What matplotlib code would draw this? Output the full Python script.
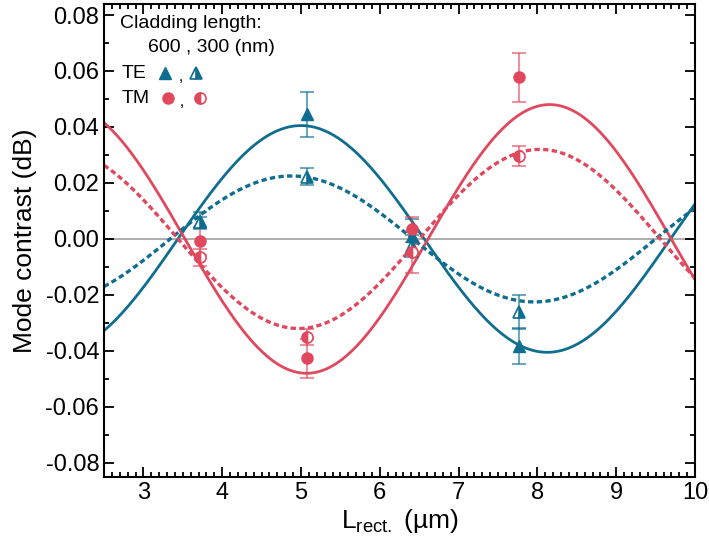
import numpy as np
import matplotlib.pyplot as plt

plt.rcParams['font.family'] = ['Liberation Sans', 'DejaVu Sans']
plt.rcParams['mathtext.default'] = 'regular'

# measured points
L = [3.72, 5.07, 6.41, 7.77]
te600 = [0.0065, 0.0445, 0.0010, -0.0382]
te600_err = [0.003, 0.008, 0.006, 0.0065]
te300 = [0.0060, 0.0223, -0.0025, -0.0260]
te300_err = [0.002, 0.003, 0.004, 0.006]
tm600 = [-0.0007, -0.0426, 0.0035, 0.0578]
tm600_err = [0.005, 0.007, 0.0045, 0.0088]
tm300 = [-0.0065, -0.0350, -0.0045, 0.0296]
tm300_err = [0.003, 0.003, 0.0075, 0.0037]

# cosine fits: amplitude, centre, period
fit_te600 = (0.0405, 5.00, 6.25)
fit_te300 = (0.0225, 4.88, 6.16)
fit_tm600 = (-0.048, 5.07, 6.17)
fit_tm300 = (-0.032, 4.97, 6.12)

blue = '#0f6e8f'
red = '#e0485e'

def fit(x, p):
    A, x0, P = p
    return A * np.cos(2 * np.pi * (x - x0) / P)

fig = plt.figure(figsize=(7.09, 5.45), dpi=100)
ax = fig.add_axes([0.1467, 0.125, 0.8336, 0.868])

xx = np.linspace(2.5, 10, 400)
ax.axhline(0, color='#a0a0a0', lw=1.2, zorder=1)
ax.plot(xx, fit(xx, fit_te600), color=blue, lw=2.0, zorder=2)
ax.plot(xx, fit(xx, fit_tm600), color=red, lw=2.0, zorder=2)
ax.plot(xx, fit(xx, fit_te300), color=blue, lw=2.4, ls=(0, (1.6, 1.0)), zorder=2)
ax.plot(xx, fit(xx, fit_tm300), color=red, lw=2.4, ls=(0, (1.6, 1.0)), zorder=2)

for ys, es, c in [(te600, te600_err, blue), (te300, te300_err, blue),
                  (tm600, tm600_err, red), (tm300, tm300_err, red)]:
    ax.errorbar(L, ys, yerr=es, fmt='none', ecolor=c, alpha=0.6,
                elinewidth=1.5, capsize=5, capthick=1.5, zorder=3)

ax.plot(L, te600, '^', color=blue, ms=8, zorder=4)
ax.plot(L, te300, '^', color=blue, ms=8, fillstyle='right',
        markerfacecoloralt='white', mec=blue, mew=1.2, zorder=4)
ax.plot(L, tm600, 'o', color=red, ms=8, zorder=4)
ax.plot(L, tm300, 'o', color=red, ms=8, fillstyle='left',
        markerfacecoloralt='white', mec=red, mew=1.2, zorder=4)

# legend drawn by hand
tr = ax.transAxes
ax.text(0.027, 0.958, 'Cladding length:', transform=tr, fontsize=14, va='center')
ax.text(0.075, 0.908, '600 , 300 (nm)', transform=tr, fontsize=14, va='center')
ax.text(0.030, 0.853, 'TE', transform=tr, fontsize=14, va='center')
ax.text(0.030, 0.800, 'TM', transform=tr, fontsize=14, va='center')
ax.plot([0.103], [0.853], '^', color=blue, ms=8, transform=tr)
ax.text(0.127, 0.845, ',', transform=tr, fontsize=11, va='center')
ax.plot([0.156], [0.853], '^', color=blue, ms=8, fillstyle='right',
        markerfacecoloralt='white', mec=blue, mew=1.2, transform=tr)
ax.plot([0.108], [0.800], 'o', color=red, ms=8, transform=tr)
ax.text(0.128, 0.792, ',', transform=tr, fontsize=11, va='center')
ax.plot([0.163], [0.800], 'o', color=red, ms=8, fillstyle='left',
        markerfacecoloralt='white', mec=red, mew=1.2, transform=tr)

ax.set_xlim(2.5, 10)
ax.set_ylim(-0.085, 0.084)
ax.set_xticks(np.arange(3, 11, 1))
ax.set_yticks(np.arange(-0.08, 0.081, 0.02))
ax.set_xticks(np.arange(2.5, 10.01, 0.1), minor=True)
ax.set_yticks(np.arange(-0.08, 0.081, 0.01), minor=True)
ax.set_yticklabels(['%.2f' % v for v in np.arange(-0.08, 0.081, 0.02)])
ax.yaxis.set_major_formatter(plt.FuncFormatter(lambda v, p: '%.2f' % (0 if abs(v) < 1e-9 else v)))
ax.tick_params(which='both', direction='in', top=True, right=True, labelsize=17, width=1.3)
ax.tick_params(which='major', length=7)
ax.tick_params(which='minor', length=3.5)
for s in ax.spines.values():
    s.set_linewidth(1.5)

ax.set_xlabel(r'L$_{rect.}$ (µm)', fontsize=19, labelpad=2)
ax.set_ylabel('Mode contrast (dB)', fontsize=19, labelpad=6)

fig.savefig('out.png', dpi=100)
